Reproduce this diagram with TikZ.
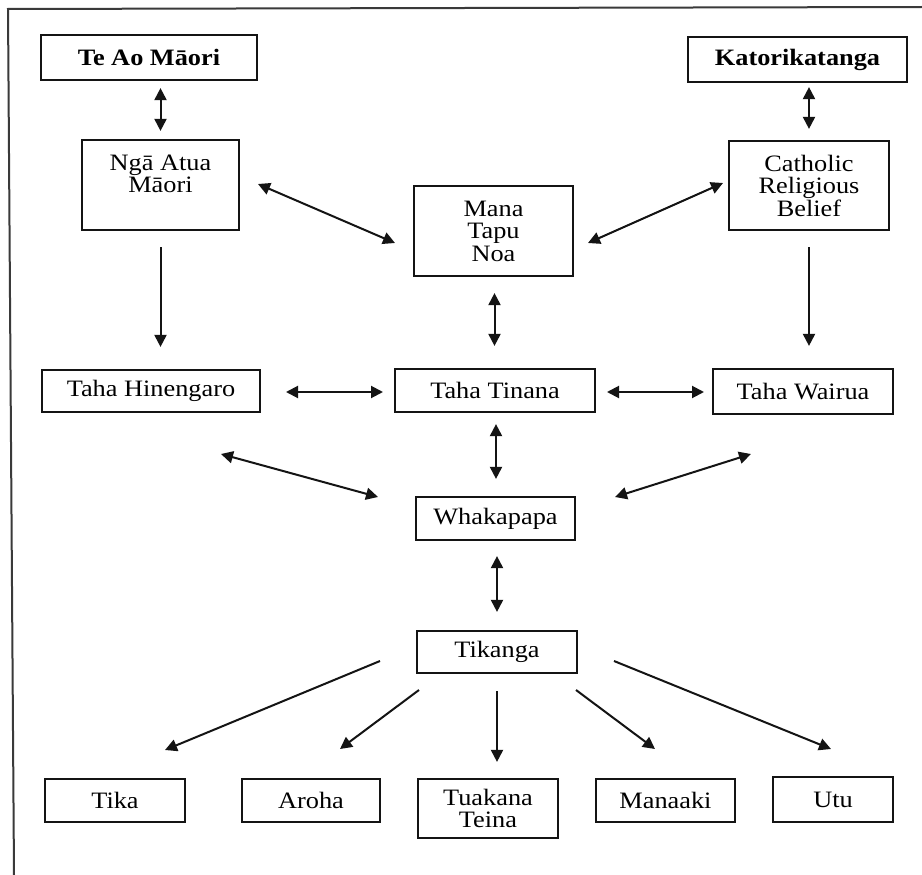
\documentclass[tikz,border=0pt]{standalone}
\usepackage{fontspec}
\setmainfont{Liberation Serif}[FakeStretch=1.12]
\usetikzlibrary{arrows.meta}
\definecolor{ink}{HTML}{141414}
\definecolor{framegray}{HTML}{3A3A3A}
\begin{document}
\begin{tikzpicture}[x=1pt,y=-1pt,
  box/.style={draw=ink, line width=2.2pt, rectangle, inner sep=0pt, align=center,
    font=\fontsize{23.5}{22.5}\selectfont},
  bbox/.style={box, font=\fontsize{23.5}{22.5}\selectfont\bfseries},
  tip/.tip={Triangle[length=12pt,width=12pt]},
  link/.style={draw=ink, line width=2pt, -tip},
  dlink/.style={draw=ink, line width=2pt, tip-tip},
  frame/.style={draw=framegray, line width=2pt}]
\useasboundingbox (0,0) rectangle (922,875);
\fill[white] (0,0) rectangle (922,875);
\draw[frame] (922,7) -- (8,9) -- (14,875);

% top row
\node[bbox, minimum width=216, minimum height=45] (teao) at (149,57.5) {Te Ao Māori};
\node[bbox, minimum width=219, minimum height=45] (kato) at (797.5,59.5) {Katorikatanga};
\node[box, minimum width=157, minimum height=90] (nga) at (160.5,185) {Ngā Atua\\Māori\\\mbox{}};
\node[box, minimum width=159, minimum height=90] (mana) at (493.5,231) {Mana\\Tapu\\Noa};
\node[box, minimum width=160, minimum height=89] (cath) at (809,185.5) {Catholic\\Religious\\Belief};

% middle
\node[box, minimum width=218, minimum height=42] (hin) at (151,391) {Taha Hinengaro};
\node[box, minimum width=200, minimum height=43] (tin) at (495,390.5) {Taha Tinana};
\node[box, minimum width=180, minimum height=45] (wai) at (803,391.5) {Taha Wairua};
\node[box, minimum width=159, minimum height=43] (wha) at (495.5,518.5) {Whakapapa};
\node[box, minimum width=160, minimum height=42] (tik) at (497,652) {Tikanga};

% bottom row
\node[box, minimum width=140, minimum height=43] (tika) at (115,800.5) {Tika};
\node[box, minimum width=138, minimum height=43] (aroha) at (311,800.5) {Aroha};
\node[box, minimum width=140, minimum height=59] (tuak) at (488,808.5) {Tuakana\\Teina};
\node[box, minimum width=139, minimum height=43] (manaaki) at (665.5,800.5) {Manaaki};
\node[box, minimum width=120, minimum height=45] (utu) at (833,799.5) {Utu};

% free connector ends
\coordinate (ngaR) at (258,184);   \coordinate (manaL) at (395,243);
\coordinate (manaR) at (588,243);  \coordinate (cathL) at (723,183);
\coordinate (hinR) at (286,392);   \coordinate (tinL) at (383,392);
\coordinate (tinR) at (607,392);   \coordinate (waiL) at (704,392);
\coordinate (hinD) at (221,454);   \coordinate (whaL) at (378,497);
\coordinate (whaR) at (615,497);   \coordinate (waiD) at (751,454);
\coordinate (tikL) at (380,661);   \coordinate (tikaU) at (165,750);
\coordinate (tikLL) at (419,690);  \coordinate (arohaU) at (340,749);
\coordinate (tikRR) at (576,690);  \coordinate (manaakiU) at (655,749);
\coordinate (tikR) at (614,661);   \coordinate (utuU) at (831,749);

% vertical connectors
\draw[dlink, shorten <=7pt, shorten >=8pt] (nga.north |- teao.south) -- (nga.north);
\draw[dlink, shorten <=4pt, shorten >=11pt] (cath.north |- kato.south) -- (cath.north);
\draw[link, shorten <=16pt, shorten >=22pt] (nga.south) -- (nga.south |- hin.north);
\draw[link, shorten <=16pt, shorten >=22pt] (cath.south) -- (cath.south |- wai.north);
\draw[dlink, shorten <=16pt, shorten >=22pt] ([xshift=1pt]mana.south) -- ([xshift=1pt]mana.south |- tin.north);
\draw[dlink, shorten <=11pt, shorten >=17pt] ([xshift=1pt]tin.south) -- ([xshift=1pt]tin.south |- wha.north);
\draw[dlink, shorten <=15pt, shorten >=18pt] ([xshift=1.5pt]wha.south) -- ([xshift=1.5pt]wha.south |- tik.north);
\draw[link, shorten <=17pt, shorten >=16pt] (tik.south) -- (tik.south |- tuak.north);

% other connectors
\draw[dlink] (ngaR) -- (manaL);
\draw[dlink] (manaR) -- (cathL);
\draw[dlink] (hinR) -- (tinL);
\draw[dlink] (tinR) -- (waiL);
\draw[dlink] (hinD) -- (whaL);
\draw[dlink] (whaR) -- (waiD);
\draw[link] (tikL) -- (tikaU);
\draw[link] (tikLL) -- (arohaU);
\draw[link] (tikRR) -- (manaakiU);
\draw[link] (tikR) -- (utuU);
\end{tikzpicture}
\end{document}
